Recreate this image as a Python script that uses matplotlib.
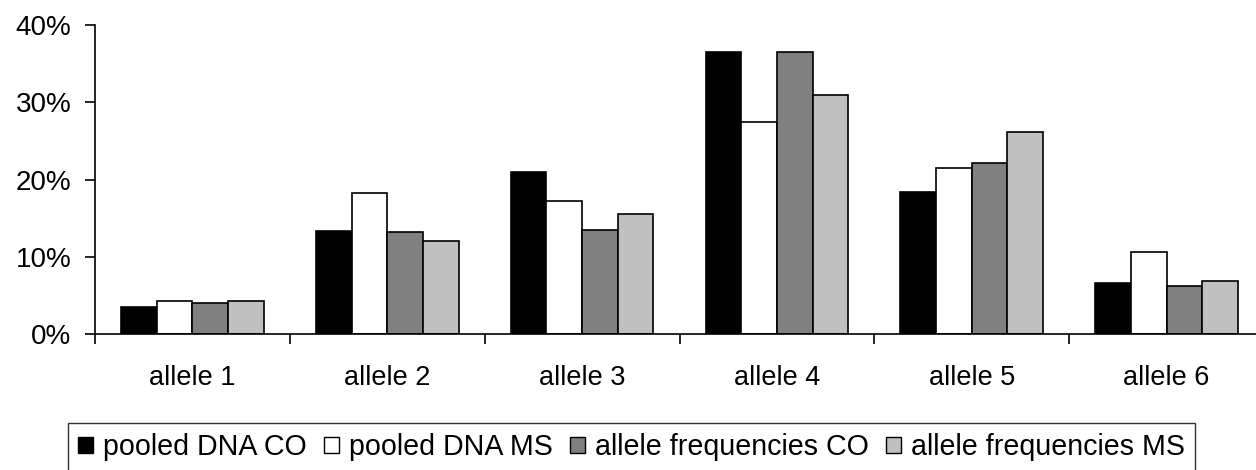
import matplotlib
matplotlib.use("Agg")
import numpy as np
from matplotlib import pyplot as plt
from matplotlib.patches import Patch
from matplotlib.ticker import PercentFormatter

plt.rcParams["font.family"] = ["Liberation Sans", "DejaVu Sans"]

categories = ["allele 1", "allele 2", "allele 3", "allele 4", "allele 5", "allele 6"]
series_names = [
    "pooled DNA CO",
    "pooled DNA MS",
    "allele frequencies CO",
    "allele frequencies MS",
]
pooled_co = [3.45, 13.3, 21.0, 36.5, 18.4, 6.65]
pooled_ms = [4.25, 18.3, 17.2, 27.5, 21.5, 10.6]
freq_co = [3.95, 13.2, 13.5, 36.5, 22.1, 6.25]
freq_ms = [4.25, 12.1, 15.5, 30.9, 26.1, 6.8]
colors = ["#000000", "#ffffff", "#808080", "#c0c0c0"]


def draw_chart(output_file: str = "out.png"):
    fig = plt.figure(figsize=(12.56, 4.70), dpi=100)
    ax = fig.add_axes([95 / 1256, 136 / 470, 1169 / 1256, 309 / 470])

    all_series = [pooled_co, pooled_ms, freq_co, freq_ms]
    x = np.arange(len(categories))
    width = 0.183
    for i, values in enumerate(all_series):
        ax.bar(
            x + 0.5 + (i - 1.5) * width,
            np.array(values) / 100,
            width,
            color=colors[i],
            edgecolor="black",
            linewidth=1.2,
        )

    ax.set_xlim(0, len(categories))
    ax.set_ylim(0, 0.40)
    ax.set_yticks([0, 0.1, 0.2, 0.3, 0.4])
    ax.yaxis.set_major_formatter(PercentFormatter(1.0, decimals=0))

    # boundaries get tick marks, centres get the labels
    ax.set_xticks(np.arange(len(categories) + 1))
    ax.set_xticklabels([])
    ax.set_xticks(x + 0.5, minor=True)
    ax.set_xticklabels(categories, minor=True)
    ax.tick_params(axis="x", which="major", length=7, width=1.2, direction="out")
    ax.tick_params(axis="x", which="minor", length=0, pad=22, labelsize=19.5)
    ax.tick_params(axis="y", length=7, width=1.2, pad=10, labelsize=20)

    for side in ["top", "right"]:
        ax.spines[side].set_visible(False)
    for side in ["left", "bottom"]:
        ax.spines[side].set_linewidth(1.2)
    ax.spines["left"].set_zorder(0.5)

    handles = [
        Patch(facecolor=c, edgecolor="black", linewidth=1.0) for c in colors
    ]
    leg = fig.legend(
        handles,
        series_names,
        loc="upper left",
        bbox_to_anchor=(68 / 1256, 1 - 423 / 470),
        bbox_transform=fig.transFigure,
        ncol=4,
        fontsize=20.6,
        frameon=True,
        fancybox=False,
        borderaxespad=0,
        borderpad=0.35,
        handlelength=0.52,
        handleheight=0.52,
        handletextpad=0.35,
        columnspacing=0.6,
    )
    leg.get_frame().set_edgecolor("black")
    leg.get_frame().set_linewidth(1.0)

    fig.savefig(output_file, dpi=100)


if __name__ == "__main__":
    draw_chart()
